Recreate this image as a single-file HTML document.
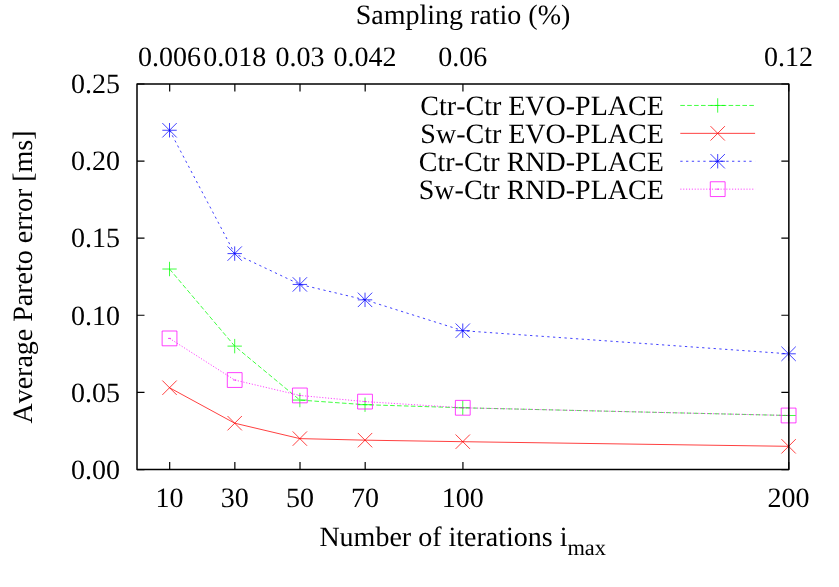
<!DOCTYPE html>
<html><head><meta charset="utf-8"><title>chart</title>
<style>
html,body{margin:0;padding:0;background:#fff;}
body{width:839px;height:587px;overflow:hidden;}
svg{display:block;will-change:transform;}
text{font-family:"Liberation Serif",serif;font-size:28px;fill:#000;font-kerning:none;text-rendering:geometricPrecision;}
</style></head><body>
<svg width="839" height="587" viewBox="0 0 839 587">

<polyline points="169.53,269.02 234.70,346.11 299.86,400.07 365.03,404.69 462.78,407.78 788.60,415.49" fill="none" stroke="#00ff00" stroke-width="0.75" stroke-dasharray="4.6 2.3"/>
<path d="M162.33 269.02H176.73M169.53 261.82V276.22" stroke="#00ff00" stroke-width="0.75" fill="none"/>
<path d="M227.50 346.11H241.90M234.70 338.91V353.31" stroke="#00ff00" stroke-width="0.75" fill="none"/>
<path d="M292.66 400.07H307.06M299.86 392.87V407.27" stroke="#00ff00" stroke-width="0.75" fill="none"/>
<path d="M357.83 404.69H372.23M365.03 397.49V411.89" stroke="#00ff00" stroke-width="0.75" fill="none"/>
<path d="M455.58 407.78H469.98M462.78 400.58V414.98" stroke="#00ff00" stroke-width="0.75" fill="none"/>
<path d="M781.40 415.49H795.80M788.60 408.29V422.69" stroke="#00ff00" stroke-width="0.75" fill="none"/>
<polyline points="169.53,387.73 234.70,423.20 299.86,438.61 365.03,440.16 462.78,441.70 788.60,446.32" fill="none" stroke="#ff0000" stroke-width="0.75"/>
<path d="M162.33 380.53L176.73 394.93M162.33 394.93L176.73 380.53" stroke="#ff0000" stroke-width="0.75" fill="none"/>
<path d="M227.50 416.00L241.90 430.40M227.50 430.40L241.90 416.00" stroke="#ff0000" stroke-width="0.75" fill="none"/>
<path d="M292.66 431.41L307.06 445.81M292.66 445.81L307.06 431.41" stroke="#ff0000" stroke-width="0.75" fill="none"/>
<path d="M357.83 432.96L372.23 447.36M357.83 447.36L372.23 432.96" stroke="#ff0000" stroke-width="0.75" fill="none"/>
<path d="M455.58 434.50L469.98 448.90M455.58 448.90L469.98 434.50" stroke="#ff0000" stroke-width="0.75" fill="none"/>
<path d="M781.40 439.12L795.80 453.52M781.40 453.52L795.80 439.12" stroke="#ff0000" stroke-width="0.75" fill="none"/>
<polyline points="169.53,130.25 234.70,253.60 299.86,284.43 365.03,299.85 462.78,330.69 788.60,353.81" fill="none" stroke="#0000ff" stroke-width="0.75" stroke-dasharray="2.3 3.45"/>
<path d="M162.33 130.25H176.73M169.53 123.05V137.45M162.33 123.05L176.73 137.45M162.33 137.45L176.73 123.05" stroke="#0000ff" stroke-width="0.75" fill="none"/>
<path d="M227.50 253.60H241.90M234.70 246.40V260.80M227.50 246.40L241.90 260.80M227.50 260.80L241.90 246.40" stroke="#0000ff" stroke-width="0.75" fill="none"/>
<path d="M292.66 284.43H307.06M299.86 277.23V291.63M292.66 277.23L307.06 291.63M292.66 291.63L307.06 277.23" stroke="#0000ff" stroke-width="0.75" fill="none"/>
<path d="M357.83 299.85H372.23M365.03 292.65V307.05M357.83 292.65L372.23 307.05M357.83 307.05L372.23 292.65" stroke="#0000ff" stroke-width="0.75" fill="none"/>
<path d="M455.58 330.69H469.98M462.78 323.49V337.89M455.58 323.49L469.98 337.89M455.58 337.89L469.98 323.49" stroke="#0000ff" stroke-width="0.75" fill="none"/>
<path d="M781.40 353.81H795.80M788.60 346.62V361.01M781.40 346.62L795.80 361.01M781.40 361.01L795.80 346.62" stroke="#0000ff" stroke-width="0.75" fill="none"/>
<polyline points="169.53,338.40 234.70,380.03 299.86,395.44 365.03,401.61 462.78,407.78 788.60,415.49" fill="none" stroke="#ff00ff" stroke-width="0.75" stroke-dasharray="1.15 1.725"/>
<path d="M162.13 331.00H176.93V345.80H162.13ZM168.03 338.40H171.03" stroke="#ff00ff" stroke-width="0.75" fill="none"/>
<path d="M227.30 372.63H242.10V387.43H227.30ZM233.20 380.03H236.20" stroke="#ff00ff" stroke-width="0.75" fill="none"/>
<path d="M292.46 388.04H307.26V402.84H292.46ZM298.36 395.44H301.36" stroke="#ff00ff" stroke-width="0.75" fill="none"/>
<path d="M357.63 394.21H372.43V409.01H357.63ZM363.53 401.61H366.53" stroke="#ff00ff" stroke-width="0.75" fill="none"/>
<path d="M455.38 400.38H470.18V415.18H455.38ZM461.28 407.78H464.28" stroke="#ff00ff" stroke-width="0.75" fill="none"/>
<path d="M781.20 408.09H796.00V422.89H781.20ZM787.10 415.49H790.10" stroke="#ff00ff" stroke-width="0.75" fill="none"/>
<path d="M680.3 105.45H755.1" stroke="#00ff00" stroke-width="0.75" fill="none" stroke-dasharray="4.6 2.3"/>
<path d="M710.50 105.45H724.90M717.70 98.25V112.65" stroke="#00ff00" stroke-width="0.75" fill="none"/>
<text x="663.8" y="114.8" text-anchor="end">Ctr-Ctr EVO-PLACE</text>
<path d="M680.3 133.35H755.1" stroke="#ff0000" stroke-width="0.75" fill="none"/>
<path d="M710.50 126.15L724.90 140.55M710.50 140.55L724.90 126.15" stroke="#ff0000" stroke-width="0.75" fill="none"/>
<text x="663.8" y="142.7" text-anchor="end">Sw-Ctr EVO-PLACE</text>
<path d="M680.3 161.25H755.1" stroke="#0000ff" stroke-width="0.75" fill="none" stroke-dasharray="2.3 3.45"/>
<path d="M710.50 161.25H724.90M717.70 154.05V168.45M710.50 154.05L724.90 168.45M710.50 168.45L724.90 154.05" stroke="#0000ff" stroke-width="0.75" fill="none"/>
<text x="663.8" y="170.6" text-anchor="end">Ctr-Ctr RND-PLACE</text>
<path d="M680.3 189.15H755.1" stroke="#ff00ff" stroke-width="0.75" fill="none" stroke-dasharray="1.15 1.725"/>
<path d="M710.30 181.75H725.10V196.55H710.30ZM716.20 189.15H719.20" stroke="#ff00ff" stroke-width="0.75" fill="none"/>
<text x="663.8" y="198.5" text-anchor="end">Sw-Ctr RND-PLACE</text>
<path d="M169.68 469.6V462.1M169.68 84.0V91.5M234.85 469.6V462.1M234.85 84.0V91.5M300.01 469.6V462.1M300.01 84.0V91.5M365.18 469.6V462.1M365.18 84.0V91.5M462.93 469.6V462.1M462.93 84.0V91.5M788.75 469.6V462.1M788.75 84.0V91.5M137.0 469.60H144.5M788.85 469.60H781.35M137.0 392.36H144.5M788.85 392.36H781.35M137.0 315.27H144.5M788.85 315.27H781.35M137.0 238.18H144.5M788.85 238.18H781.35M137.0 161.09H144.5M788.85 161.09H781.35M137.0 84.00H144.5M788.85 84.00H781.35" stroke="#000" stroke-width="1.2" fill="none"/>
<rect x="137.0" y="84.0" width="651.85" height="385.60" fill="none" stroke="#000" stroke-width="1.5" stroke-linejoin="round"/>
<text x="169.5" y="507.2" text-anchor="middle">10</text>
<text x="234.7" y="507.2" text-anchor="middle">30</text>
<text x="299.9" y="507.2" text-anchor="middle">50</text>
<text x="365.0" y="507.2" text-anchor="middle">70</text>
<text x="462.8" y="507.2" text-anchor="middle">100</text>
<text x="788.6" y="507.2" text-anchor="middle">200</text>
<text x="169.5" y="65.8" text-anchor="middle">0.006</text>
<text x="234.7" y="65.8" text-anchor="middle">0.018</text>
<text x="299.9" y="65.8" text-anchor="middle">0.03</text>
<text x="365.0" y="65.8" text-anchor="middle">0.042</text>
<text x="462.8" y="65.8" text-anchor="middle">0.06</text>
<text x="788.6" y="65.8" text-anchor="middle">0.12</text>
<text x="120" y="478.6" text-anchor="end">0.00</text>
<text x="120" y="401.6" text-anchor="end">0.05</text>
<text x="120" y="324.5" text-anchor="end">0.10</text>
<text x="120" y="247.4" text-anchor="end">0.15</text>
<text x="120" y="170.3" text-anchor="end">0.20</text>
<text x="120" y="93.2" text-anchor="end">0.25</text>
<text x="463" y="23.9" text-anchor="middle">Sampling ratio (%)</text>
<text x="462.7" y="545.6" text-anchor="middle">Number of iterations i<tspan font-size="22.4px" dy="9.2">max</tspan></text>
<text transform="translate(32 277) rotate(-90)" text-anchor="middle">Average Pareto error [ms]</text>
</svg></body></html>
